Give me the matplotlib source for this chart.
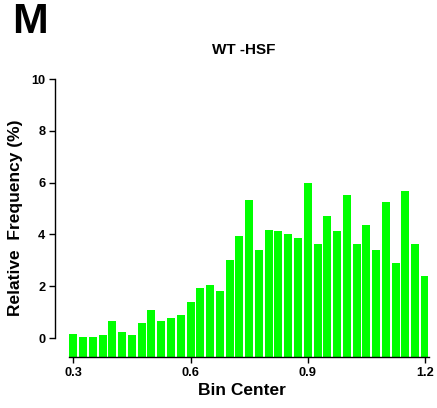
import matplotlib
matplotlib.use("Agg")
import matplotlib.pyplot as plt
import numpy as np

plt.rcParams['font.family'] = ['Liberation Sans', 'DejaVu Sans']

bin_centers = [round(0.3 + 0.025 * i, 3) for i in range(37)]
rel_freq = [0.15, 0.04, 0.04, 0.12, 0.65, 0.23, 0.12, 0.58, 1.08, 0.65, 0.77, 0.88,
            1.38, 1.92, 2.04, 1.81, 3.00, 3.94, 5.33, 3.40, 4.17, 4.14, 4.02, 3.87,
            5.99, 3.63, 4.71, 4.13, 5.52, 3.63, 4.36, 3.40, 5.25, 2.90, 5.68, 3.63, 2.40]
x_ticks = [0.3, 0.6, 0.9, 1.2]
x_tick_labels = ["0.3", "0.6", "0.9", "1.2"]
y_ticks = [0, 2, 4, 6, 8, 10]

W, H = 437, 408
fig = plt.figure(figsize=(W / 100, H / 100), dpi=100)
ax = fig.add_axes([55 / W, (H - 357) / H, (428 - 55) / W, (357 - 79) / H])

ymin = -0.73
ax.bar(bin_centers, np.array(rel_freq) - ymin, bottom=ymin, width=0.0205,
       color='#00ff00', edgecolor='none')

ax.set_xlim(0.2532, 1.2077)
ax.set_ylim(ymin, 10)

for s in ['top', 'right']:
    ax.spines[s].set_visible(False)
ax.spines['left'].set_bounds(0, 10)
ax.spines['bottom'].set_bounds(0.2895, 1.2105)
for s in ['left', 'bottom']:
    ax.spines[s].set_linewidth(1.0)
    ax.spines[s].set_color('black')

ax.set_xticks(x_ticks)
ax.set_xticklabels(x_tick_labels, fontsize=9.2, fontweight='bold')
ax.set_yticks(y_ticks)
ax.set_yticklabels([str(v) for v in y_ticks], fontsize=9.2, fontweight='bold')
ax.tick_params(axis='both', direction='out', length=4, width=1.0, pad=3)

ax.set_xlabel("Bin Center", fontsize=12.5, fontweight='bold', labelpad=3)
ax.set_ylabel("Relative  Frequency (%)", fontsize=12.5, fontweight='bold', labelpad=6)

fig.text(244 / W, 1 - 50 / H, "WT -HSF", fontsize=11, fontweight='bold',
         ha='center', va='center')
fig.text(12 / W, 1 - 22 / H, "M", fontsize=31, fontweight='bold',
         ha='left', va='center')

fig.savefig("out.png", dpi=100)
